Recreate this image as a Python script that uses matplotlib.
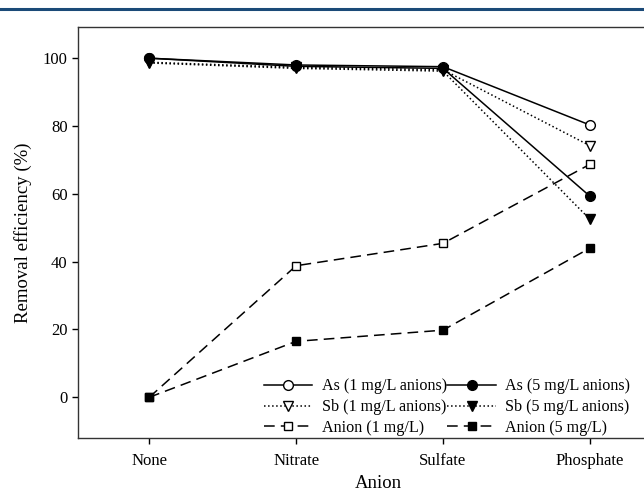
import matplotlib.pyplot as plt
from matplotlib.lines import Line2D

plt.rcParams['font.family'] = ['Liberation Serif', 'DejaVu Serif']

# data
anions = ['None', 'Nitrate', 'Sulfate', 'Phosphate']
as_1 = [100.0, 98.0, 97.5, 80.3]
as_5 = [100.0, 97.6, 97.0, 59.3]
sb_1 = [98.8, 97.3, 96.6, 74.2]
sb_5 = [98.6, 97.0, 96.2, 52.5]
anion_1 = [0.0, 38.8, 45.4, 68.7]
anion_5 = [0.0, 16.5, 19.8, 44.0]

x = list(range(len(anions)))

fig = plt.figure(figsize=(6.44, 4.95), dpi=100)
# journal header rule
fig.add_artist(Line2D([0, 1], [1 - 8.5 / 495, 1 - 8.5 / 495], color='#1b4a78', lw=2.2))

ax = fig.add_axes([78 / 644, 1 - 438 / 495, 600 / 644, (438 - 27) / 495])

ms = 7
lw = 1.1
ax.plot(x, as_1, '-', color='black', lw=lw, marker='o', ms=ms, mfc='white', mec='black',
        label='As (1 mg/L anions)')
ax.plot(x, sb_1, ':', color='black', lw=lw, marker='v', ms=ms, mfc='white', mec='black',
        label='Sb (1 mg/L anions)')
ax.plot(x, anion_1, '--', color='black', lw=lw, marker='s', ms=ms - 1, mfc='white', mec='black',
        dashes=(7, 4), label='Anion (1 mg/L)')
ax.plot(x, as_5, '-', color='black', lw=lw, marker='o', ms=ms, mfc='black', mec='black',
        label='As (5 mg/L anions)')
ax.plot(x, sb_5, ':', color='black', lw=lw, marker='v', ms=ms, mfc='black', mec='black',
        label='Sb (5 mg/L anions)')
ax.plot(x, anion_5, '--', color='black', lw=lw, marker='s', ms=ms - 1, mfc='black', mec='black',
        dashes=(7, 4), label='Anion (5 mg/L)')

ax.set_xlim(-0.485, 3.6)
ax.set_ylim(-12, 109.2)
ax.set_xticks(x)
ax.set_xticklabels(anions, fontsize=12)
ax.set_yticks([0, 20, 40, 60, 80, 100])
ax.tick_params(axis='y', labelsize=12, direction='out', length=4, width=1)
ax.tick_params(axis='x', direction='out', length=4, width=1, pad=7)
ax.set_xlabel('Anion', fontsize=13.5, labelpad=4)
ax.set_ylabel('Removal efficiency (%)', fontsize=13.5, labelpad=8)
for s in ax.spines.values():
    s.set_linewidth(1)
    s.set_color('#333333')

ax.legend(loc='lower left', bbox_to_anchor=(0.285, -0.03), ncol=2, frameon=False,
          fontsize=11.6, numpoints=1, handlelength=3.0, columnspacing=0.05,
          handletextpad=0.6, labelspacing=0.3, handleheight=0.6)

fig.savefig('out.png', dpi=100)
